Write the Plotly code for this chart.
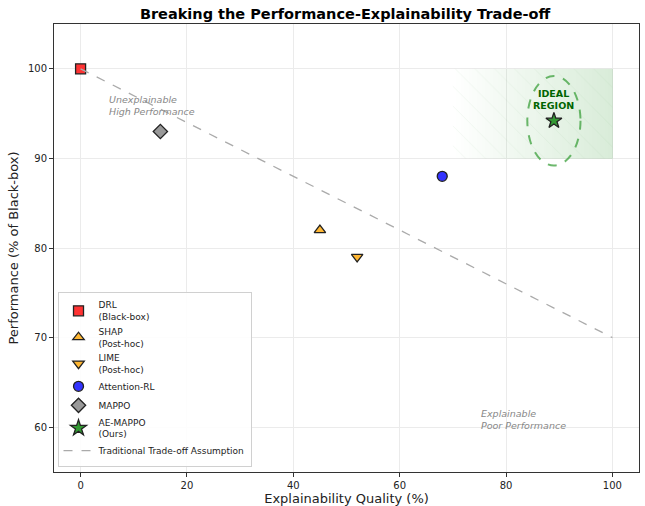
import numpy as np
import plotly.graph_objects as go

methods = ["DRL<br>(Black-box)", "SHAP<br>(Post-hoc)", "LIME<br>(Post-hoc)", "Attention-RL", "MAPPO", "AE-MAPPO<br>(Ours)"]
explainability = [0, 45, 52, 68, 15, 89]
performance = [100, 82, 79, 88, 93, 94.2]
colors = ["#ff3333", "#ffb733", "#ffb733", "#3333ff", "#999999", "#339933"]
symbols = ["square", "triangle-up", "triangle-down", "circle", "diamond", "star"]
sizes = [10, 10, 10, 10, 11, 12]

tradeoff_x = [0, 100]
tradeoff_y = [100, 70]

ideal_x = [70, 100]
ideal_y = [90, 100]
ellipse_center = (89, 94.2)
ellipse_w, ellipse_h = 10, 10

fig = go.Figure()

# gradient fill of ideal region (edges given -> exact extent)
gx = np.linspace(ideal_x[0], ideal_x[1], 61)
gz = (gx[:-1] + gx[1:]) / 2
fig.add_trace(go.Heatmap(
    x=gx, y=ideal_y, z=[gz],
    colorscale=[[0, "rgba(0,128,0,0.0)"], [1, "rgba(0,128,0,0.15)"]],
    showscale=False, hoverinfo="skip"))
# hatching
fig.add_trace(go.Scatter(
    x=[ideal_x[0], ideal_x[1], ideal_x[1], ideal_x[0], ideal_x[0]],
    y=[ideal_y[0], ideal_y[0], ideal_y[1], ideal_y[1], ideal_y[0]],
    fill="toself", mode="none", fillcolor="rgba(0,0,0,0)",
    fillpattern=dict(shape="\\", fgcolor="rgba(0,100,0,0.12)", bgcolor="rgba(0,0,0,0)", size=14, solidity=0.05),
    showlegend=False, hoverinfo="skip"))

for m, x, y, c, s, sz in zip(methods, explainability, performance, colors, symbols, sizes):
    fig.add_trace(go.Scatter(
        x=[x], y=[y], mode="markers", name=m,
        marker=dict(symbol=s, size=sz, color=c, line=dict(color="#222222", width=1.3))))

fig.add_trace(go.Scatter(
    x=tradeoff_x, y=tradeoff_y, mode="lines", name="Traditional Trade-off Assumption",
    line=dict(color="#aaaaaa", width=1.3, dash="dash")))

cx, cy = ellipse_center
fig.add_shape(type="circle", xref="x", yref="y",
              x0=cx - ellipse_w / 2, x1=cx + ellipse_w / 2,
              y0=cy - ellipse_h / 2, y1=cy + ellipse_h / 2,
              line=dict(color="rgba(60,160,60,0.75)", width=2, dash="dash"),
              fillcolor="rgba(0,0,0,0)")

fig.add_annotation(x=cx, y=96.6, text="<b>IDEAL<br>REGION</b>", showarrow=False,
                   font=dict(size=9.5, color="#006400", family="DejaVu Sans"))
fig.add_annotation(x=5, y=95.9, text="<i>Unexplainable<br>High Performance</i>", showarrow=False,
                   xanchor="left", yanchor="middle", align="left",
                   font=dict(size=9.5, color="#888888", family="DejaVu Sans"))
fig.add_annotation(x=75, y=60.9, text="<i>Explainable<br>Poor Performance</i>", showarrow=False,
                   xanchor="left", yanchor="middle", align="left",
                   font=dict(size=9.5, color="#888888", family="DejaVu Sans"))

fig.update_layout(
    width=645, height=506,
    margin=dict(l=54, r=6, t=24, b=34),
    paper_bgcolor="white", plot_bgcolor="white",
    font=dict(family="DejaVu Sans", color="#222222"),
    title=dict(text="<b>Breaking the Performance-Explainability Trade-off</b>",
               x=0.535, xanchor="center", yref="container", y=0.972, yanchor="middle",
               font=dict(size=14.5, color="black")),
    xaxis=dict(range=[-5, 105], tickvals=[0, 20, 40, 60, 80, 100],
               showgrid=True, gridcolor="#ebebeb", zeroline=False, automargin=False,
               showline=True, linecolor="#333333", mirror=True, linewidth=1,
               ticks="outside", ticklen=4, tickcolor="#333333",
               tickfont=dict(size=10),
               title=dict(text="Explainability Quality (%)", font=dict(size=13), standoff=4)),
    yaxis=dict(range=[55, 105], tickvals=[60, 70, 80, 90, 100],
               showgrid=True, gridcolor="#ebebeb", zeroline=False, automargin=False,
               showline=True, linecolor="#333333", mirror=True, linewidth=1,
               ticks="outside", ticklen=4, tickcolor="#333333",
               tickfont=dict(size=10),
               title=dict(text="Performance (% of Black-box)", font=dict(size=13), standoff=6)),
    legend=dict(x=0.006, y=0.012, xanchor="left", yanchor="bottom",
                bgcolor="rgba(255,255,255,0.9)", bordercolor="#d0d0d0", borderwidth=1,
                font=dict(size=9), tracegroupgap=0, itemwidth=30),
    showlegend=True,
)

fig.write_html("out.html", config={"displayModeBar": False},
               post_script="document.body.style.margin='0';")
